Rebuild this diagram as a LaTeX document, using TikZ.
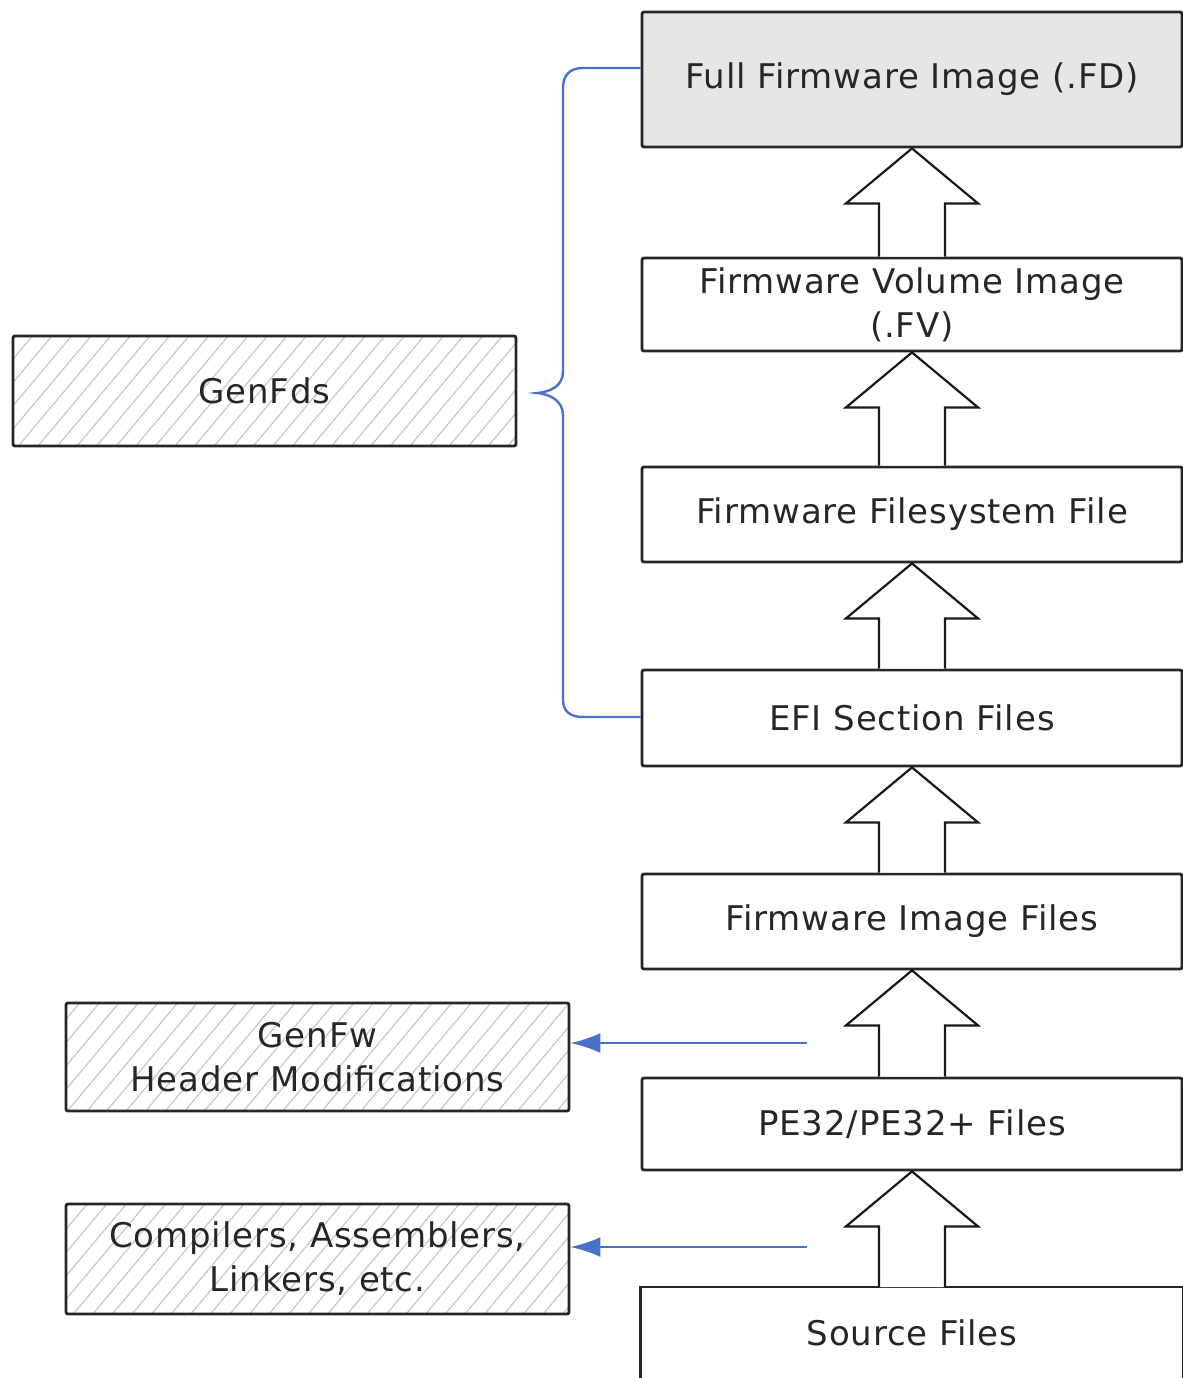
\documentclass[tikz,border=0pt]{standalone}
\usepackage{fontspec}
\setmainfont[LetterSpace=2.5]{DejaVu Sans}
\usetikzlibrary{calc,arrows.meta,patterns.meta}
\definecolor{bracecol}{RGB}{70,115,200}
\definecolor{fdgray}{RGB}{230,230,230}
\newcommand\blockarrow[2]{%
  \draw[blk] let \p1=(#1.south), \p2=(#2.north) in
    (\x2-16.5pt,\y2) -- (\x2-16.5pt,\y1-27.5pt) -- (\x2-33pt,\y1-27.5pt) -- (\x1,\y1)
    -- (\x2+33pt,\y1-27.5pt) -- (\x2+16.5pt,\y1-27.5pt) -- (\x2+16.5pt,\y2);
}
\begin{document}
\begin{tikzpicture}[x=0.5pt,y=-0.5pt,
  font=\fontsize{17}{22}\selectfont,
  box/.style={draw=black!85, line width=1.4pt, rounded corners=1pt, minimum width=270pt,
    inner sep=0pt, align=center, text=black!85},
  tool/.style={draw=black!85, line width=1.4pt, rounded corners=1pt, minimum width=251.5pt,
    inner sep=0pt, align=center, text=black!85,
    pattern={Lines[angle=50,distance=7.5pt,line width=0.6pt]}, pattern color=black!22},
  blk/.style={draw=black!90, line width=1.1pt, fill=white, line join=miter},
  bluel/.style={draw=bracecol, line width=1.2pt},
]
\useasboundingbox (0,0) rectangle (1183,1378);

% main column
\node[box, fill=fdgray, minimum height=67.5pt] (fd)  at (912,79.5)  {Full Firmware Image (.FD)};
\node[box, minimum height=46.5pt] (fv)  at (912,304.5) {Firmware Volume Image\\(.FV)};
\node[box, minimum height=47.5pt] (ffs) at (912,514.5) {Firmware Filesystem File};
\node[box, minimum height=48pt]   (efi) at (912,718)   {EFI Section Files};
\node[box, minimum height=47.5pt] (img) at (912,921.5) {Firmware Image Files};
\node[box, minimum height=46pt]   (pe)  at (912,1124)  {PE32/PE32+ Files};
\node[box, draw=none, anchor=north, minimum height=44pt] (src) at (912,1287) {Source Files};
\draw[black!85, line width=1.4pt] ([yshift=-20pt]src.south west) -- (src.north west)
  -- (src.north east) -- ([yshift=-20pt]src.south east);

% tools
\node[tool, minimum height=55pt] (gfd) at (264.5,391)  {GenFds};
\node[tool, minimum height=54pt] (gfw) at (317.5,1057) {GenFw\\Header Modifications};
\node[tool, minimum height=55pt] (cmp) at (317.5,1259) {Compilers, Assemblers,\\Linkers, etc.};

% block arrows
\blockarrow{fd}{fv}
\blockarrow{fv}{ffs}
\blockarrow{ffs}{efi}
\blockarrow{efi}{img}
\blockarrow{img}{pe}
\blockarrow{pe}{src}

% blue arrows
\coordinate (s1) at (807,1043);
\coordinate (s2) at (807,1247);
\draw[bluel, -{Latex[length=15pt,width=10pt]}] (s1) -- (s1 -| gfw.east);
\draw[bluel, -{Latex[length=15pt,width=10pt]}] (s2) -- (s2 -| cmp.east);

% brace
\coordinate (bt) at ([yshift=5.75pt]fd.west);
\coordinate (bb) at ([yshift=0.5pt]efi.west);
\draw[bluel] (bt) -- (583,68) .. controls (570,68) and (563,75) .. (563,88)
  -- (563,372) .. controls (563,386) and (550,392) .. (537,393)
  .. controls (550,394) and (563,401) .. (563,415)
  -- (563,700) .. controls (563,711) and (570,717) .. (583,717) -- (bb);
\end{tikzpicture}
\end{document}
